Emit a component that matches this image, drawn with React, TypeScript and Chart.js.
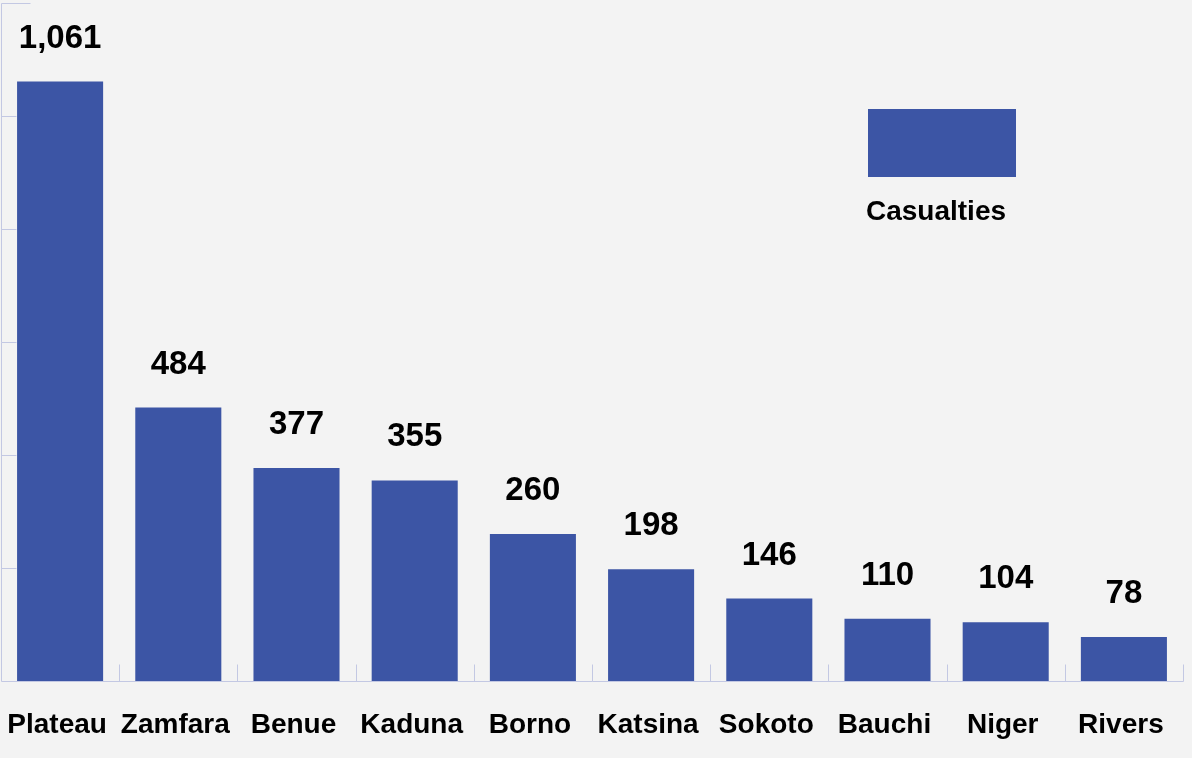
import React, { useEffect, useRef } from "react";
import { Chart, registerables } from "chart.js";

Chart.register(...registerables);

const categories = ["Plateau", "Zamfara", "Benue", "Kaduna", "Borno", "Katsina", "Sokoto", "Bauchi", "Niger", "Rivers"];
const casualties = [1061, 484, 377, 355, 260, 198, 146, 110, 104, 78];
const seriesLabel = "Casualties";
const yMax = 1200;
const yStep = 200;

const BAR_COLOR = "#3c55a5";
const AXIS_COLOR = "#c3c8e3";
const BG = "#f3f3f3";
const FONT = "'Liberation Sans', Arial, Helvetica, sans-serif";

const decorPlugin = {
  id: "decor",
  beforeDraw(chart: any) {
    const { ctx, width, height } = chart;
    ctx.save();
    ctx.fillStyle = BG;
    ctx.fillRect(0, 0, width, height);
    ctx.restore();
  },
  afterDatasetsDraw(chart: any) {
    const { ctx, chartArea, scales } = chart;
    const x = scales.x;
    const y = scales.y;
    ctx.save();
    ctx.strokeStyle = AXIS_COLOR;
    ctx.lineWidth = 1;
    const left = Math.round(chartArea.left) + 0.5;
    const bottom = Math.round(chartArea.bottom) + 0.5;
    ctx.beginPath();
    // y axis line
    ctx.moveTo(left, Math.round(y.getPixelForValue(yMax)) + 0.5);
    ctx.lineTo(left, bottom);
    // x axis line
    ctx.lineTo(Math.round(chartArea.right) + 0.5, bottom);
    // y ticks (inside)
    for (let v = yStep; v <= yMax; v += yStep) {
      const py = Math.round(y.getPixelForValue(v)) + 0.5;
      ctx.moveTo(left, py);
      ctx.lineTo(left + (v === yMax ? 29 : 15), py);
    }
    // x ticks at category boundaries (inside)
    const n = categories.length;
    const cw = (x.right - x.left) / n;
    for (let i = 1; i <= n; i++) {
      const px = Math.round(x.left + i * cw) + 0.5;
      ctx.moveTo(px, bottom);
      ctx.lineTo(px, bottom - 17);
    }
    ctx.stroke();

    // value labels
    const meta = chart.getDatasetMeta(0);
    ctx.fillStyle = "#000";
    ctx.font = `bold 33px ${FONT}`;
    ctx.textAlign = "center";
    ctx.textBaseline = "alphabetic";
    meta.data.forEach((bar: any, i: number) => {
      ctx.fillText(casualties[i].toLocaleString("en-US"), bar.x, bar.y - 34);
    });

    // category labels
    ctx.font = `bold 28px ${FONT}`;
    categories.forEach((c, i) => {
      ctx.fillText(c, x.getPixelForValue(i) - 3, 733);
    });

    // legend
    const lx = 868, ly = 109, lw = 148, lh = 68;
    ctx.fillStyle = BAR_COLOR;
    ctx.fillRect(lx, ly, lw, lh);
    ctx.fillStyle = "#000";
    ctx.font = `bold 28px ${FONT}`;
    ctx.textAlign = "center";
    ctx.fillText(seriesLabel, 936, 220);
    ctx.restore();
  },
};

export default function App() {
  const ref = useRef<HTMLCanvasElement | null>(null);
  useEffect(() => {
    document.body.style.margin = "0";
    document.body.style.background = BG;
    const chart = new Chart(ref.current as HTMLCanvasElement, {
      type: "bar",
      data: {
        labels: categories,
        datasets: [
          {
            label: seriesLabel,
            data: casualties,
            backgroundColor: BAR_COLOR,
            borderWidth: 0,
            categoryPercentage: 1,
            barPercentage: 0.728,
          },
        ],
      },
      options: {
        responsive: false,
        animation: false,
        maintainAspectRatio: false,
        layout: { padding: { left: 1, top: 3, right: 9, bottom: 77 } },
        plugins: { legend: { display: false }, tooltip: { enabled: false } },
        scales: {
          x: { display: false },
          y: {
            display: false,
            min: 0,
            max: yMax,
            ticks: { stepSize: yStep },
          },
        },
      },
      plugins: [decorPlugin],
    });
    return () => chart.destroy();
  }, []);
  return (
    <div style={{ width: 1192, height: 758, background: BG }}>
      <canvas ref={ref} width={1192} height={758} style={{ display: "block" }} />
    </div>
  );
}
